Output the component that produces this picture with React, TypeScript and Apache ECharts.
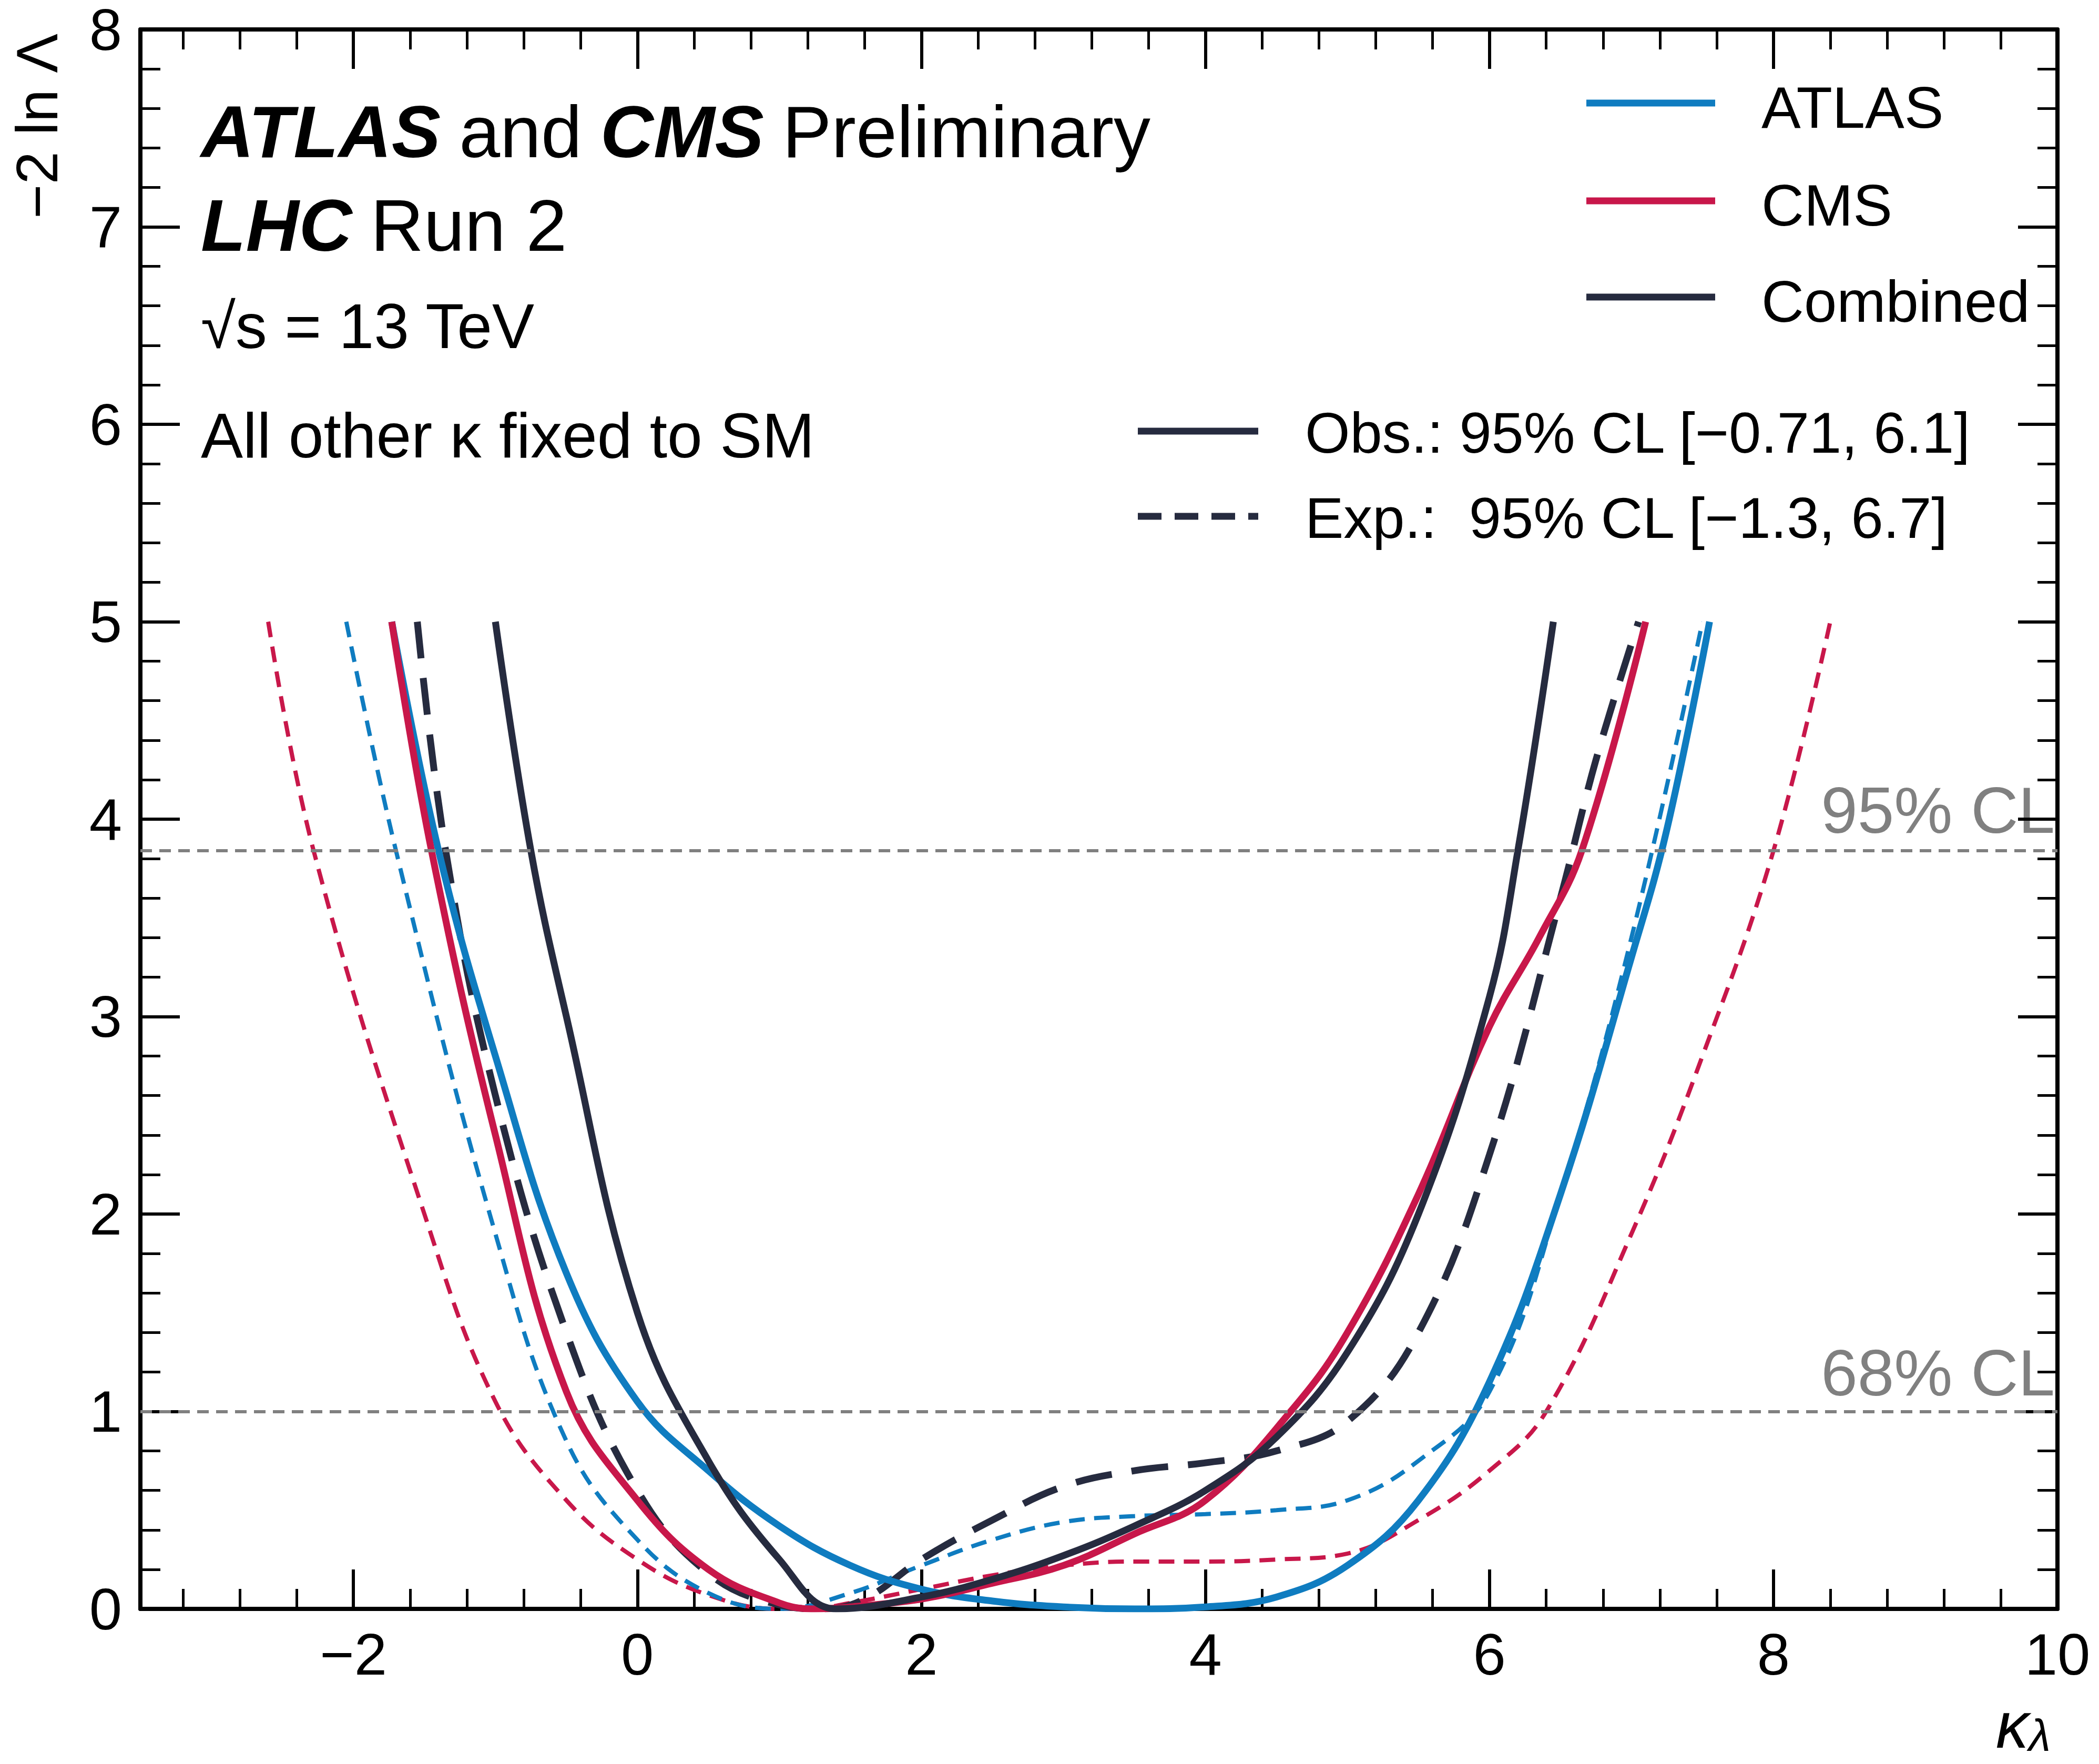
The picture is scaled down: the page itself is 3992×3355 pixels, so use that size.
import React, { useRef, useEffect } from "react";
import * as echarts from "echarts";

// kappa_lambda scan values
const combObsX = [-1.0, -0.75, -0.5, 0, 0.5, 1.0, 1.4, 2, 2.5, 3, 3.5, 4, 4.5, 5, 5.5, 6, 6.2, 6.45];
const combObsY = [5, 3.84, 3.0, 1.5, 0.75, 0.25, 0.0, 0.06, 0.15, 0.27, 0.42, 0.6, 0.87, 1.3, 2.0, 3.1, 3.84, 5];
const combExpX = [-1.55, -1.35, -1, -0.5, 0, 0.5, 1, 1.3, 1.6, 2, 2.5, 3, 3.5, 4, 4.5, 5, 5.5, 6, 6.5, 6.75, 7.05];
const combExpY = [5, 3.84, 2.6, 1.4, 0.6, 0.18, 0.02, 0, 0.05, 0.25, 0.45, 0.62, 0.7, 0.74, 0.8, 0.95, 1.4, 2.3, 3.6, 4.3, 5];
const atlasObsX = [-1.73, -1.4, -1, -0.5, 0, 0.5, 1, 1.5, 2, 2.5, 3, 3.5, 4, 4.5, 5, 5.5, 6, 6.5, 7, 7.25, 7.55];
const atlasObsY = [5, 3.84, 2.8, 1.7, 1.05, 0.7, 0.42, 0.22, 0.1, 0.04, 0.01, 0, 0.01, 0.06, 0.22, 0.55, 1.15, 2.1, 3.3, 3.95, 5];
const cmsObsX = [-1.73, -1.45, -1, -0.5, 0, 0.5, 1, 1.25, 1.5, 2, 2.5, 3, 3.5, 4, 4.6, 5, 5.5, 6, 6.35, 6.65, 7.1];
const cmsObsY = [5, 3.84, 2.4, 1.1, 0.55, 0.2, 0.03, 0, 0.01, 0.05, 0.13, 0.22, 0.38, 0.55, 1.0, 1.4, 2.1, 2.95, 3.4, 3.84, 5];
const atlasExpX = [-2.05, -1.7, -1, -0.5, 0, 0.5, 1, 1.5, 2, 2.5, 3, 3.5, 4, 4.5, 5, 5.5, 6, 6.5, 7, 7.5];
const atlasExpY = [5, 3.84, 1.9, 0.85, 0.35, 0.08, 0, 0.08, 0.22, 0.35, 0.44, 0.47, 0.48, 0.5, 0.55, 0.75, 1.1, 2.1, 3.4, 5];
const cmsExpX = [-2.6, -2.28, -1.5, -1, -0.5, 0, 0.5, 1, 1.2, 1.5, 2, 2.5, 3, 3.5, 4, 4.5, 5, 5.5, 6, 6.4, 7, 7.5, 8, 8.4];
const cmsExpY = [5, 3.84, 2.0, 1.05, 0.55, 0.25, 0.07, 0.0, 0, 0.03, 0.1, 0.17, 0.22, 0.24, 0.24, 0.25, 0.28, 0.45, 0.7, 1.0, 1.9, 2.8, 3.84, 5];

const xMajorTicks = [-2, 0, 2, 4, 6, 8, 10];
const xMinorTicks = [-3.2, -2.8, -2.4, -1.6, -1.2, -0.8, -0.4, 0.4, 0.8, 1.2, 1.6, 2.4, 2.8, 3.2, 3.6, 4.4, 4.8, 5.2, 5.6, 6.4, 6.8, 7.2, 7.6, 8.4, 8.8, 9.2, 9.6];
const clLevels = [3.84, 1];
const clLabels = ["95% CL", "68% CL"];

const BLUE = "#0f7cc0";
const RED = "#c8174a";
const DARK = "#262b3f";
const GRAY = "#808080";
const FONT = "Liberation Sans";

const zip = (xs: number[], ys: number[]) => xs.map((x, i) => [x, ys[i]]);

const App = () => {
  const chartRef = useRef<HTMLDivElement>(null);

  useEffect(() => {
    document.body.style.margin = "0";
    const chart = echarts.init(chartRef.current, null, { renderer: "svg" });

    const xBase = { type: "value", min: -3.5, max: 10, gridIndex: 0, splitLine: { show: false } };
    const line = { show: true, onZero: false, lineStyle: { color: "#000", width: 8 } };
    const noLine = { show: false, onZero: false };
    const majTick = { show: true, inside: true, length: 75, lineStyle: { color: "#000", width: 6 }, customValues: xMajorTicks };
    const minTick = { show: true, inside: true, length: 38, lineStyle: { color: "#000", width: 5 }, customValues: xMinorTicks };
    const xAxis = [
      {
        ...xBase, position: "bottom", axisLine: line, axisTick: majTick,
        axisLabel: { show: true, customValues: xMajorTicks, fontSize: 112, fontFamily: FONT, color: "#000", margin: 30, formatter: (v: number) => String(v).replace("-", "\u2212") },
      },
      { ...xBase, position: "bottom", axisLine: noLine, axisTick: minTick, axisLabel: { show: false } },
      { ...xBase, position: "top", axisLine: line, axisTick: majTick, axisLabel: { show: false } },
      { ...xBase, position: "top", axisLine: noLine, axisTick: minTick, axisLabel: { show: false } },
    ];
    const yBase = {
      type: "value", min: 0, max: 8, interval: 1, splitLine: { show: false }, axisLine: line,
      axisTick: { show: true, inside: true, length: 75, lineStyle: { color: "#000", width: 6 } },
      minorTick: { show: true, splitNumber: 5, length: 38, lineStyle: { color: "#000", width: 5 } },
    };
    const yAxis = [
      { ...yBase, position: "left", axisLabel: { fontSize: 112, fontFamily: FONT, color: "#000", margin: 35 } },
      { ...yBase, position: "right", axisLabel: { show: false } },
    ];

    const mk = (name: string, xs: number[], ys: number[], color: string, width: number, type: any, extra: any = {}) => ({
      name, type: "line", data: zip(xs, ys), smooth: 0.4, showSymbol: false, symbol: "none",
      lineStyle: { color, width, type, cap: "butt" }, ...extra,
    });

    const clMarks = {
      markLine: {
        silent: true, symbol: "none", label: { show: false },
        lineStyle: { color: GRAY, width: 6, type: [22, 14] },
        data: clLevels.map((v) => ({ yAxis: v })),
      },
    };

    const text = (x: number, y: number, t: string, size: number, extra: any = {}) => ({
      type: "text", x, y, style: { text: t, fontSize: size, fontFamily: FONT, fill: "#000", textVerticalAlign: "middle", ...extra },
    });
    const legLine = (x1: number, x2: number, y: number, color: string, dash: any) => ({
      type: "line", shape: { x1, y1: y, x2, y2: y }, style: { stroke: color, lineWidth: 13, lineDash: dash },
    });
    const bi = { fontStyle: "italic", fontWeight: "bold", fontSize: 140, fontFamily: FONT };
    const nr = { fontSize: 140, fontFamily: FONT, padding: [0, 0, 0, 35] };
    const bi2 = { ...bi, padding: [0, 0, 0, 35] };

    const options = {
      animation: false,
      grid: { left: 267, right: 79, top: 43, bottom: 295 },
      xAxis, yAxis,
      series: [
        mk("CMS exp", cmsExpX, cmsExpY, RED, 8, [30, 18], clMarks),
        mk("ATLAS exp", atlasExpX, atlasExpY, BLUE, 8, [30, 18]),
        mk("Combined exp", combExpX, combExpY, DARK, 13, [70, 38]),
        mk("ATLAS", atlasObsX, atlasObsY, BLUE, 13, "solid"),
        mk("CMS", cmsObsX, cmsObsY, RED, 13, "solid"),
        mk("Combined", combObsX, combObsY, DARK, 13, "solid"),
      ],
      graphic: [
        { type: "text", x: 382, y: 250, style: { text: "{b|ATLAS}{n|and}{c|CMS}{n|Preliminary}", rich: { b: bi, n: nr, c: bi2 }, textVerticalAlign: "middle", fill: "#000" } },
        { type: "text", x: 382, y: 428, style: { text: "{b|LHC}{n|Run 2}", rich: { b: bi, n: nr }, textVerticalAlign: "middle", fill: "#000" } },
        text(382, 620, "\u221As = 13 TeV", 120),
        text(382, 828, "All other \u03BA fixed to SM", 120),
        legLine(3017, 3262, 196, BLUE, null),
        text(3350, 204, "ATLAS", 112),
        legLine(3017, 3262, 382, RED, null),
        text(3350, 390, "CMS", 112),
        legLine(3017, 3262, 565, DARK, null),
        text(3350, 573, "Combined", 112),
        legLine(2164, 2393, 820, DARK, null),
        text(2482, 822, "Obs.: 95% CL [\u22120.71, 6.1]", 110),
        legLine(2164, 2393, 982, DARK, [45, 25]),
        text(2482, 984, "Exp.:  95% CL [\u22121.3, 6.7]", 110),
        text(3908, 1540, clLabels[0], 125, { fill: GRAY, textAlign: "right" }),
        text(3908, 2610, clLabels[1], 125, { fill: GRAY, textAlign: "right" }),
        { type: "text", x: 70, y: 240, rotation: Math.PI / 2, style: { text: "\u22122 ln \u039B", fontSize: 112, fontFamily: FONT, fill: "#000", textAlign: "center", textVerticalAlign: "middle" } },
        { type: "text", x: 3900, y: 3280, style: { text: "{k|\u03BA}{s|\u03BB}", textAlign: "right", textVerticalAlign: "middle", rich: { k: { fontSize: 125, fontStyle: "italic", fontFamily: FONT }, s: { fontSize: 85, fontStyle: "italic", fontFamily: FONT, padding: [40, 0, 0, 0] } } } },
      ],
    };
    chart.setOption(options as any);
    return () => {
      chart.dispose();
    };
  }, []);

  return <div ref={chartRef} style={{ width: 3992, height: 3355 }} />;
};

export default App;
